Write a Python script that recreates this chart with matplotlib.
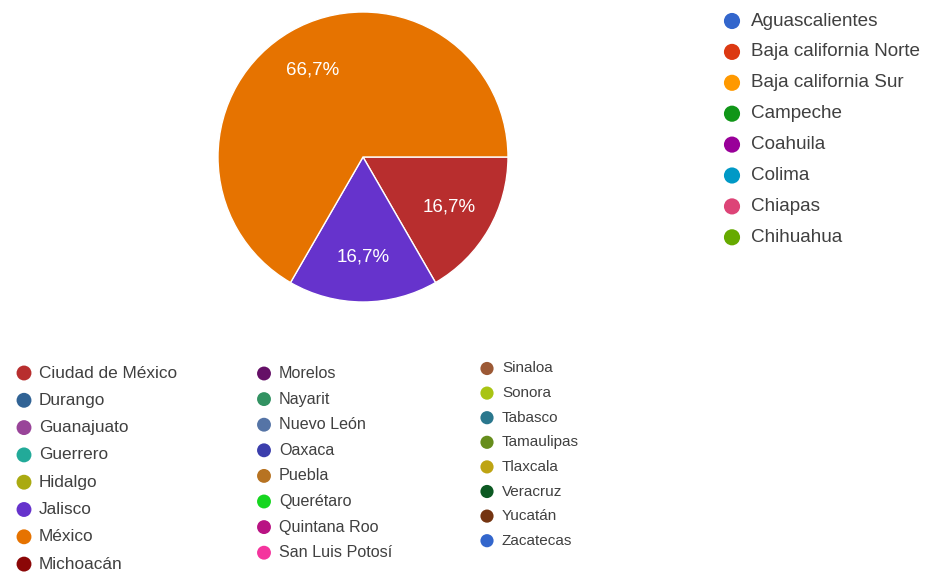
import matplotlib
matplotlib.use("Agg")
import matplotlib.pyplot as plt

plt.rcParams['font.family'] = ['Liberation Sans', 'DejaVu Sans']

# Responses per state (only three states received answers)
pie_labels = ["Ciudad de México", "Jalisco", "México"]
pie_counts = [1, 1, 4]
pie_colors = ["#b82e2e", "#6633cc", "#e67300"]

# Legend entries, grouped as they are laid out
legend_top = ["Aguascalientes", "Baja california Norte", "Baja california Sur",
              "Campeche", "Coahuila", "Colima", "Chiapas", "Chihuahua"]
legend_top_colors = ["#3366cc", "#dc3912", "#ff9900", "#109618",
                     "#990099", "#0099c6", "#dd4477", "#66aa00"]

legend_col1 = ["Ciudad de México", "Durango", "Guanajuato", "Guerrero",
               "Hidalgo", "Jalisco", "México", "Michoacán"]
legend_col1_colors = ["#b82e2e", "#316395", "#994499", "#22aa99",
                      "#aaaa11", "#6633cc", "#e67300", "#8b0707"]

legend_col2 = ["Morelos", "Nayarit", "Nuevo León", "Oaxaca",
               "Puebla", "Querétaro", "Quintana Roo", "San Luis Potosí"]
legend_col2_colors = ["#651067", "#329262", "#5574a6", "#3b3eac",
                      "#b77322", "#16d620", "#b91383", "#f4359e"]

legend_col3 = ["Sinaloa", "Sonora", "Tabasco", "Tamaulipas",
               "Tlaxcala", "Veracruz", "Yucatán", "Zacatecas"]
legend_col3_colors = ["#9c5935", "#a9c413", "#2a778d", "#668d1c",
                      "#bea413", "#0c5922", "#743411", "#3366cc"]

W, H = 929, 573
fig = plt.figure(figsize=(W / 100, H / 100), dpi=100)
fig.patch.set_facecolor("white")

# Pie axes: centre (363, 157) px, radius 145 px
cx, cy, r = 363, 157, 145
ax = fig.add_axes([(cx - r) / W, 1 - (cy + r) / H, 2 * r / W, 2 * r / H])


def fmt(p):
    return f"{p:.1f}%".replace(".", ",")


wedges, texts, autotexts = ax.pie(
    pie_counts, colors=pie_colors, startangle=0, counterclock=False,
    autopct=fmt, pctdistance=0.69, radius=1,
    wedgeprops=dict(edgecolor="white", linewidth=1.0),
    textprops=dict(color="white", fontsize=13.5))
ax.set_xlim(-1, 1)
ax.set_ylim(-1, 1)
ax.set_aspect("equal")
ax.axis("off")

# Overlay axes in pixel units for the legend blocks
lax = fig.add_axes([0, 0, 1, 1])
lax.set_xlim(0, W)
lax.set_ylim(H, 0)
lax.axis("off")

text_color = "#404040"


def draw_legend(names, colors, mx, tx, y0, dy, msize, fsize):
    for i, (n, c) in enumerate(zip(names, colors)):
        y = y0 + i * dy
        lax.scatter([mx], [y], s=msize, color=c, edgecolors="none")
        lax.text(tx, y, n, fontsize=fsize, color=text_color,
                 va="center", ha="left")


draw_legend(legend_top, legend_top_colors, 732, 751, 21, 30.9, 135, 13.6)
draw_legend(legend_col1, legend_col1_colors, 24, 39, 373, 27.3, 115, 12.4)
draw_legend(legend_col2, legend_col2_colors, 264, 279, 373.5, 25.6, 100, 11.6)
draw_legend(legend_col3, legend_col3_colors, 487, 502, 368.5, 24.6, 90, 11.0)

fig.savefig("out.png", dpi=100, facecolor="white")
